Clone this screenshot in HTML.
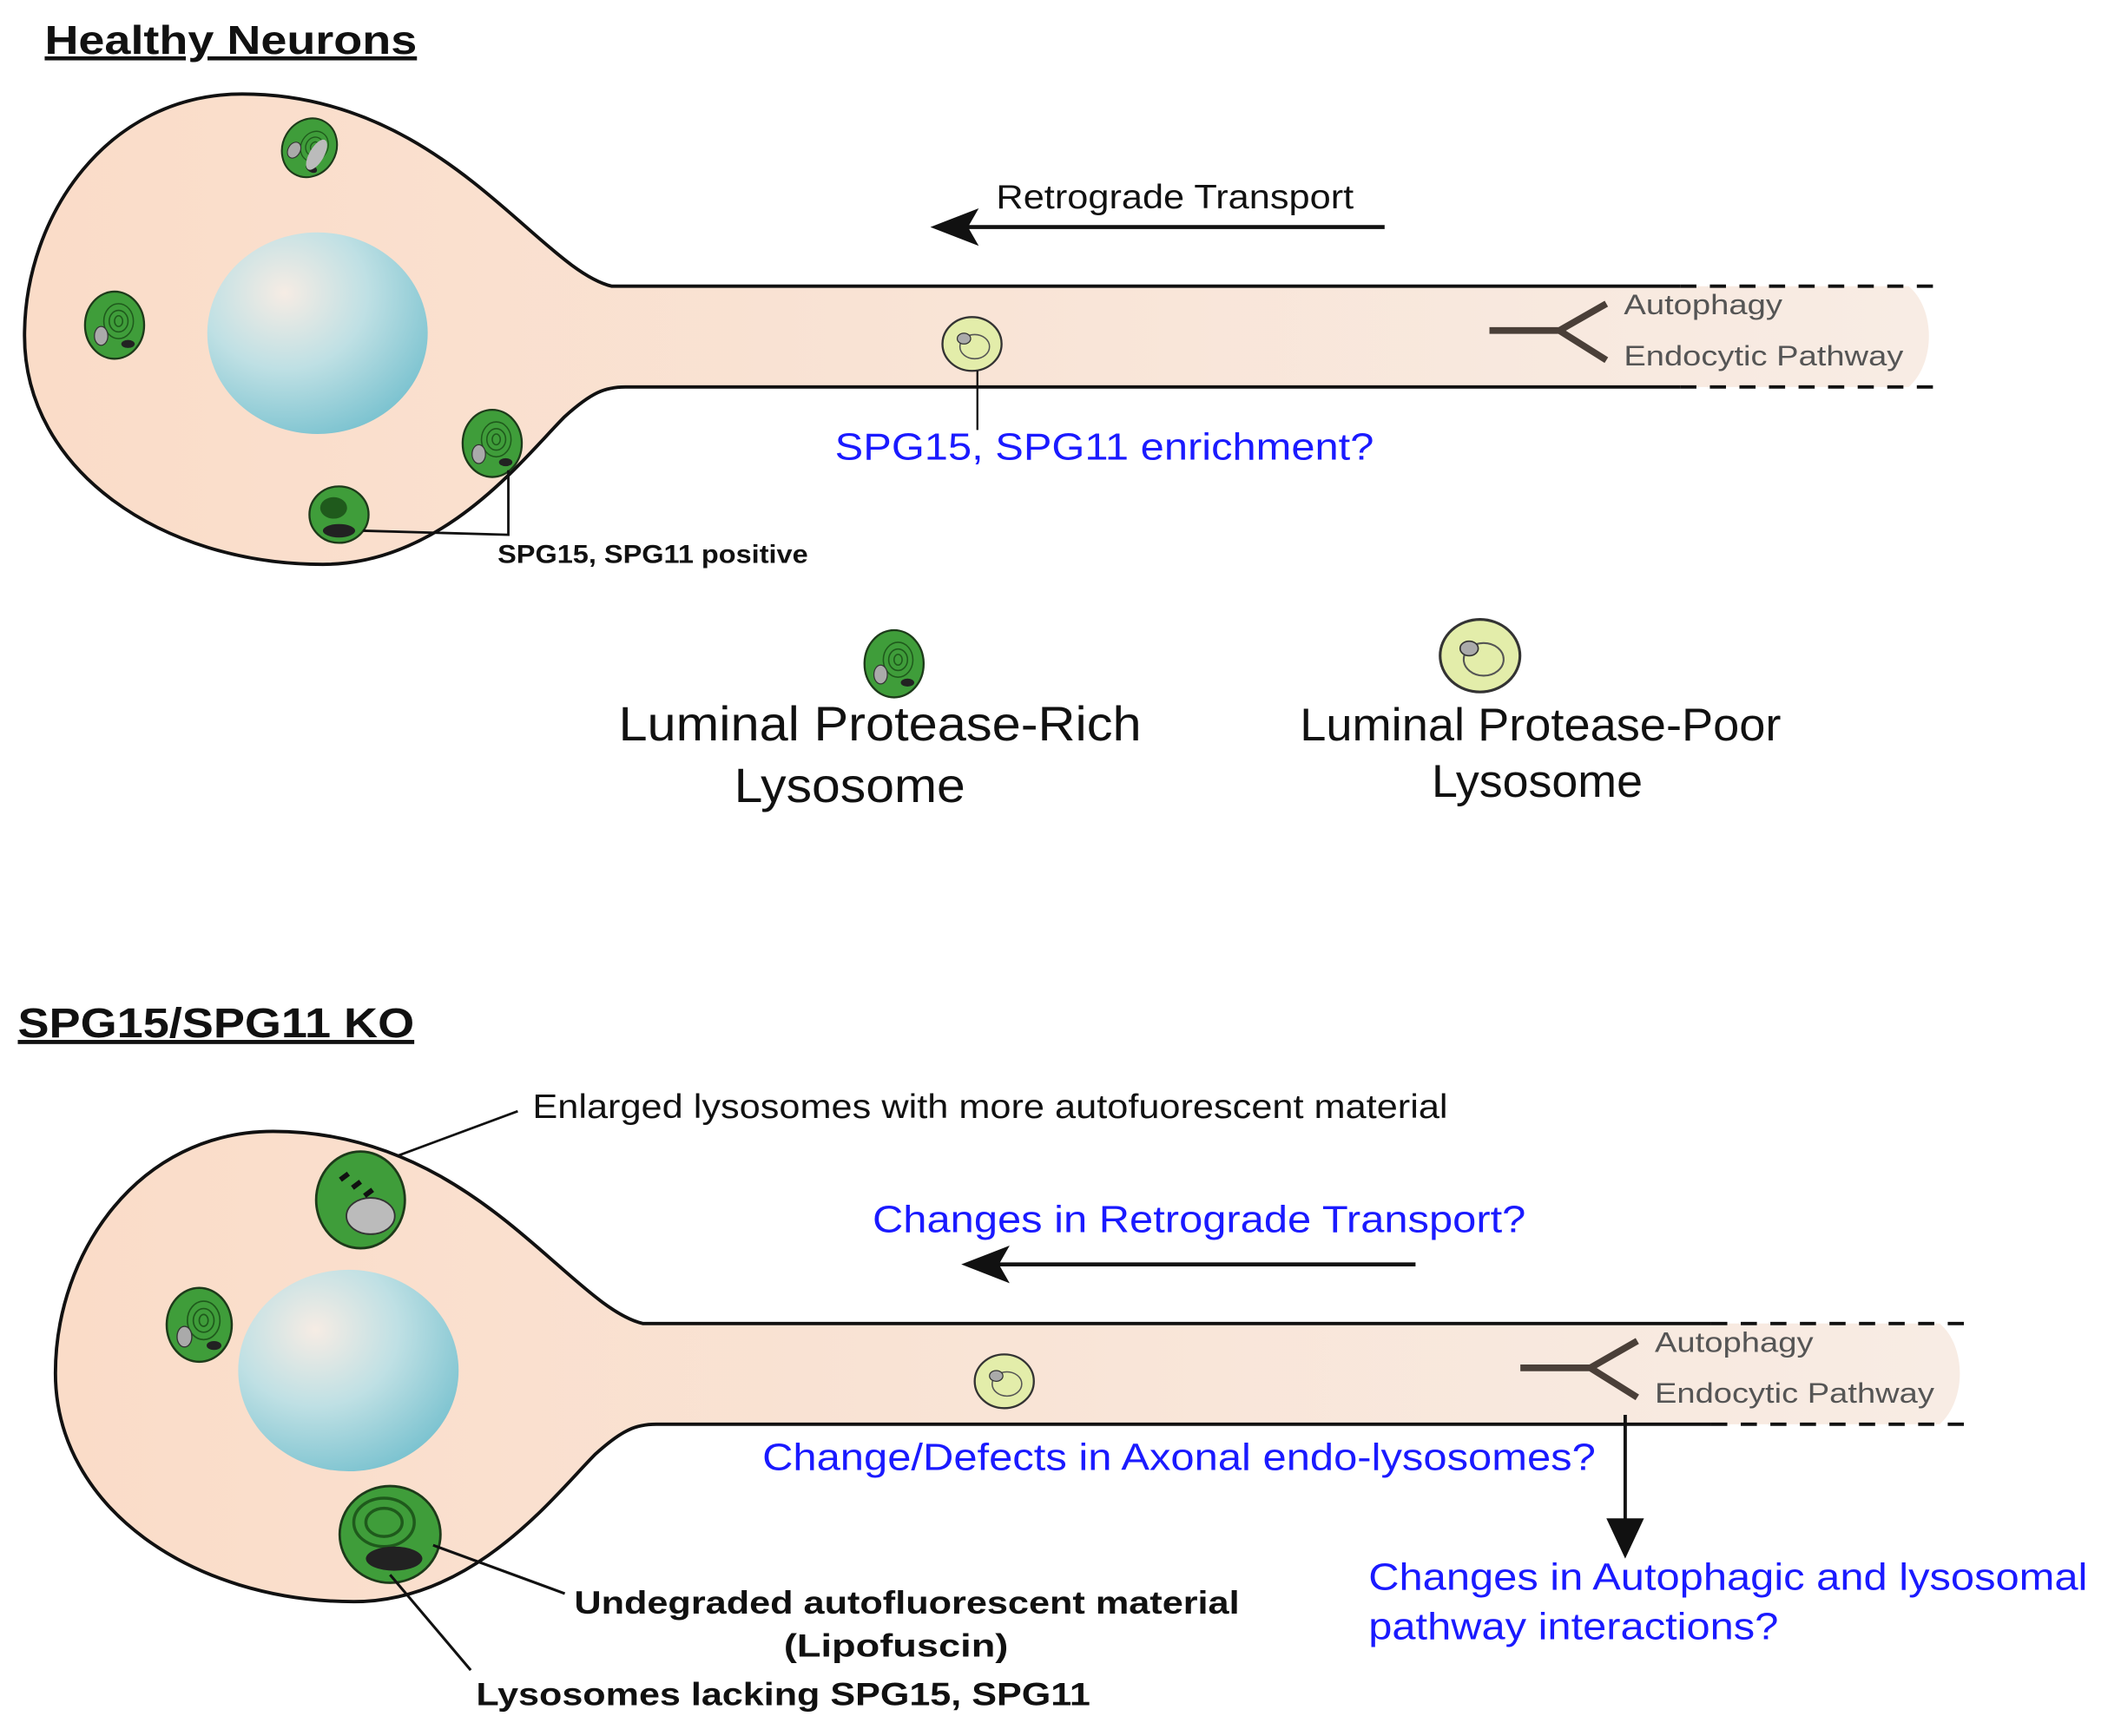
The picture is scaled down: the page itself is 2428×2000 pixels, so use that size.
<!DOCTYPE html>
<html><head><meta charset="utf-8"><style>
html,body{margin:0;padding:0;background:#fff}
svg{display:block}
text{font-family:"Liberation Sans",Arial,sans-serif}
</style></head><body>
<svg width="2428" height="2000" viewBox="0 0 1568 1292" xmlns="http://www.w3.org/2000/svg">
<defs>
<radialGradient id="nuc" cx="0.35" cy="0.3" r="0.75">
<stop offset="0" stop-color="#f6ece4"/><stop offset="0.5" stop-color="#bfe0e4"/><stop offset="1" stop-color="#7cc3d0"/>
</radialGradient>
<linearGradient id="ax" x1="0" x2="1" y1="0" y2="0">
<stop offset="0" stop-color="#fadcc8"/><stop offset="1" stop-color="#f8ece4"/>
</linearGradient>
<g id="lysG">
<ellipse cx="0" cy="0" rx="22" ry="25" fill="#3f9d3a" stroke="#1d3a1a" stroke-width="1.5"/>
<ellipse cx="3" cy="-3" rx="11" ry="13" fill="none" stroke="#1f5a1c" stroke-width="1"/>
<ellipse cx="3" cy="-3" rx="7" ry="8" fill="none" stroke="#1f5a1c" stroke-width="1"/>
<ellipse cx="3" cy="-3" rx="3" ry="4" fill="none" stroke="#1f5a1c" stroke-width="1"/>
<ellipse cx="-10" cy="8" rx="5" ry="7" fill="#aaa" stroke="#333" stroke-width="0.8"/>
<ellipse cx="10" cy="14" rx="5" ry="3" fill="#222"/>
</g>
<g id="lysY">
<ellipse cx="0" cy="0" rx="22" ry="20" fill="#e3edaa" stroke="#333" stroke-width="1.5"/>
<ellipse cx="2" cy="2" rx="11" ry="9" fill="none" stroke="#555" stroke-width="1"/>
<ellipse cx="-6" cy="-4" rx="5" ry="4" fill="#aaa" stroke="#333" stroke-width="0.8"/>
</g>
<g id="cell">
<path d="M1420,213 L455,213 C400,200 330,70 180,70 C80,70 18,160 18,250 C18,350 120,420 240,420 C330,420 390,340 420,310 C440,292 450,288 465,288 L1420,288 C1440,270 1440,230 1420,213 Z" fill="url(#ax)"/>
<path d="M1250,213 L455,213 C400,200 330,70 180,70 C80,70 18,160 18,250 C18,350 120,420 240,420 C330,420 390,340 420,310 C440,292 450,288 465,288 L1250,288" fill="none" stroke="#111" stroke-width="2.5"/>
<line x1="1250" y1="213" x2="1440" y2="213" stroke="#111" stroke-width="2.5" stroke-dasharray="12,10"/>
<line x1="1250" y1="288" x2="1440" y2="288" stroke="#111" stroke-width="2.5" stroke-dasharray="12,10"/>
<ellipse cx="236" cy="248" rx="82" ry="75" fill="url(#nuc)"/>
<path d="M1108,246 L1160,246 M1195,226 L1160,246 L1195,268" stroke="#4a3f38" stroke-width="5" fill="none"/>
<text x="1208" y="234" font-size="21" fill="#555" textLength="118" lengthAdjust="spacingAndGlyphs">Autophagy</text>
<text x="1208" y="272" font-size="21" fill="#555" textLength="208" lengthAdjust="spacingAndGlyphs">Endocytic Pathway</text>
</g>
</defs>

<!-- Healthy -->
<text x="33" y="40" font-size="30" font-weight="bold" text-decoration="underline" fill="#111" textLength="277" lengthAdjust="spacingAndGlyphs">Healthy Neurons</text>
<use href="#cell"/>
<g transform="translate(230,110) rotate(30) scale(0.9)"><use href="#lysG"/><ellipse cx="8" cy="2" rx="6" ry="14" fill="#bbb"/></g>
<use href="#lysG" transform="translate(85,242)"/>
<use href="#lysG" transform="translate(366,330)"/>
<g transform="translate(252,383)"><ellipse rx="22" ry="21" fill="#3f9d3a" stroke="#1d3a1a" stroke-width="1.5"/><ellipse cx="-4" cy="-5" rx="10" ry="8" fill="#1f5a1c"/><ellipse cx="0" cy="12" rx="12" ry="5" fill="#222"/></g>
<path d="M270,395 L378,398 L378,350" fill="none" stroke="#111" stroke-width="1.8"/>
<text x="370" y="419" font-size="19" font-weight="bold" fill="#111" textLength="231" lengthAdjust="spacingAndGlyphs">SPG15, SPG11 positive</text>
<use href="#lysY" transform="translate(723,256)"/>
<line x1="727" y1="276" x2="727" y2="320" stroke="#111" stroke-width="1.5"/>
<text x="621" y="342" font-size="28" fill="#1a1aff" textLength="401" lengthAdjust="spacingAndGlyphs">SPG15, SPG11 enrichment?</text>
<line x1="712" y1="169" x2="1030" y2="169" stroke="#111" stroke-width="3"/>
<path d="M692,169 L728,155 L720,169 L728,183 Z" fill="#111"/>
<text x="741" y="155" font-size="25" fill="#111" textLength="266" lengthAdjust="spacingAndGlyphs">Retrograde Transport</text>

<!-- Legend -->
<use href="#lysG" transform="translate(665,494)"/>
<text x="460" y="551" font-size="36" fill="#111" textLength="389" lengthAdjust="spacingAndGlyphs">Luminal Protease-Rich</text>
<text x="546" y="597" font-size="36" fill="#111" textLength="172" lengthAdjust="spacingAndGlyphs">Lysosome</text>
<use href="#lysY" transform="translate(1101,488) scale(1.35)"/>
<text x="967" y="551" font-size="34" fill="#111" textLength="358" lengthAdjust="spacingAndGlyphs">Luminal Protease-Poor</text>
<text x="1065" y="593" font-size="34" fill="#111" textLength="157" lengthAdjust="spacingAndGlyphs">Lysosome</text>

<!-- KO -->
<text x="13" y="772" font-size="31" font-weight="bold" fill="#111" text-decoration="underline" textLength="295" lengthAdjust="spacingAndGlyphs">SPG15/SPG11 KO</text>
<use href="#cell" transform="translate(23,772)"/>
<g transform="translate(268,893) scale(1.5)"><ellipse rx="22" ry="24" fill="#3f9d3a" stroke="#1d3a1a" stroke-width="1.2"/><ellipse cx="5" cy="8" rx="12" ry="9" fill="#bbb" stroke="#333" stroke-width="0.8"/><path d="M-10,-10 l4,-3 M-4,-6 l4,-3 M2,-2 l4,-3" stroke="#111" stroke-width="2.5"/></g>
<use href="#lysG" transform="translate(148,986) scale(1.1)"/>
<g transform="translate(290,1142) scale(1.5)"><ellipse rx="25" ry="24" fill="#3f9d3a" stroke="#1d3a1a" stroke-width="1.2"/><ellipse cx="-3" cy="-6" rx="15" ry="12" fill="none" stroke="#1f5a1c" stroke-width="1.5"/><ellipse cx="-3" cy="-6" rx="9" ry="7" fill="none" stroke="#1f5a1c" stroke-width="1.5"/><ellipse cx="2" cy="12" rx="14" ry="6" fill="#222"/></g>
<line x1="296" y1="860" x2="385" y2="827" stroke="#111" stroke-width="1.8"/>
<text x="396" y="832" font-size="25" fill="#111" textLength="681" lengthAdjust="spacingAndGlyphs">Enlarged lysosomes with more autofuorescent material</text>
<use href="#lysY" transform="translate(747,1028)"/>
<line x1="735" y1="941" x2="1053" y2="941" stroke="#111" stroke-width="3"/>
<path d="M715,941 L751,927 L743,941 L751,955 Z" fill="#111"/>
<text x="649" y="917" font-size="28" fill="#1a1aff" textLength="486" lengthAdjust="spacingAndGlyphs">Changes in Retrograde Transport?</text>
<text x="567" y="1094" font-size="28" fill="#1a1aff" textLength="620" lengthAdjust="spacingAndGlyphs">Change/Defects in Axonal endo-lysosomes?</text>
<line x1="1209" y1="1053" x2="1209" y2="1135" stroke="#111" stroke-width="2.5"/>
<path d="M1195,1130 L1223,1130 L1209,1160 Z" fill="#111"/>
<text x="1018" y="1183" font-size="28" fill="#1a1aff" textLength="535" lengthAdjust="spacingAndGlyphs">Changes in Autophagic and lysosomal</text>
<text x="1018" y="1220" font-size="28" fill="#1a1aff" textLength="305" lengthAdjust="spacingAndGlyphs">pathway interactions?</text>
<line x1="322" y1="1150" x2="420" y2="1186" stroke="#111" stroke-width="2"/>
<line x1="290" y1="1172" x2="350" y2="1243" stroke="#111" stroke-width="2"/>
<text x="427" y="1201" font-size="24" font-weight="bold" fill="#111" textLength="495" lengthAdjust="spacingAndGlyphs">Undegraded autofluorescent material</text>
<text x="583" y="1233" font-size="24" font-weight="bold" fill="#111" textLength="167" lengthAdjust="spacingAndGlyphs">(Lipofuscin)</text>
<text x="354" y="1269" font-size="24" font-weight="bold" fill="#111" textLength="457" lengthAdjust="spacingAndGlyphs">Lysosomes lacking SPG15, SPG11</text>
</svg>
</body></html>
